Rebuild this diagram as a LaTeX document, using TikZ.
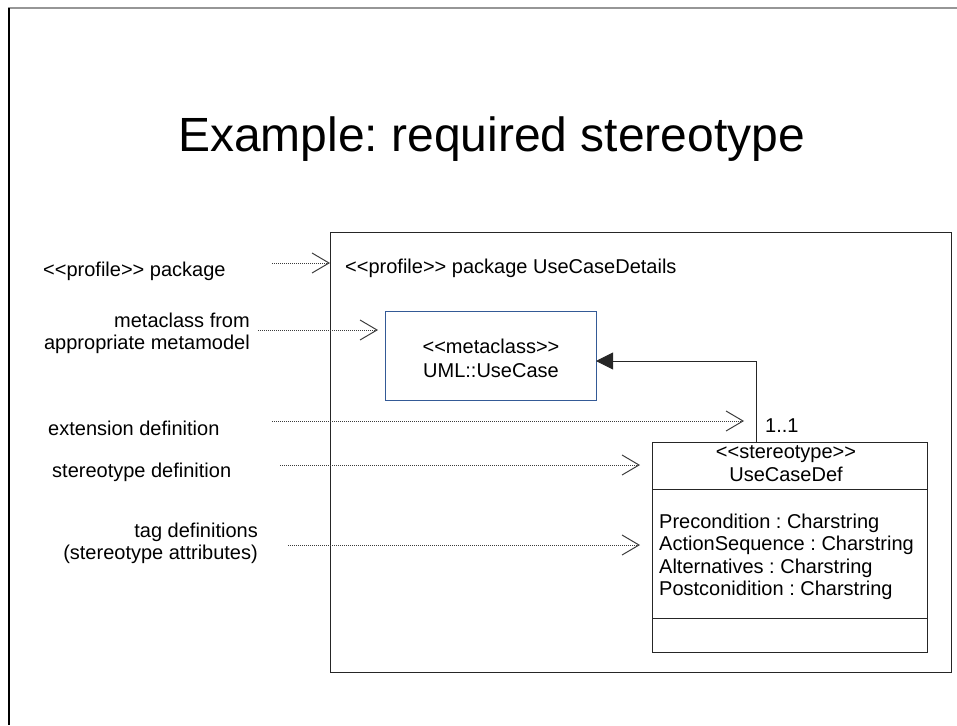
\documentclass[tikz,border=0pt]{standalone}
\usepackage{fontspec}
\setmainfont{Liberation Sans}[Ligatures=TeXOff]
\usetikzlibrary{arrows.meta}
\frenchspacing
\definecolor{metablue}{RGB}{52,90,150}
\definecolor{framegray}{RGB}{150,150,150}
\definecolor{dotgray}{RGB}{60,60,60}
\begin{document}
\begin{tikzpicture}[x=1pt,y=-1pt,
  txt/.style={inner sep=0pt, font=\fontsize{20}{22}\selectfont},
  note/.style={draw=dotgray, line width=0.9pt, dash pattern=on 1pt off 1pt,
    -{Straight Barb[length=17pt,width=20pt,line width=1pt]}},
  umlbox/.style={draw=black!85, inner sep=0pt, anchor=north west},
  extline/.style={draw=black!85, line width=1pt, -{Triangle[length=17pt,width=17pt]}}
]
\useasboundingbox (0,0) rectangle (957,725);

% slide frame
\draw[framegray, line width=1.2pt] (8,8) -- (957,8);
\draw[black, line width=1.8pt] (9,8) -- (9,725);

% title
\node[anchor=base, inner sep=0pt, font=\fontsize{48}{56}\selectfont] (title) at (491.5,151) {Example: required stereotype};

% profile package
\node[umlbox, line width=1pt, minimum width=621pt, minimum height=440pt] (pkg) at (330,232) {};
\node[txt, anchor=base west] (pkgname) at (345,273) {<<profile>> package UseCaseDetails};

% metaclass
\node[umlbox, draw=metablue, line width=1pt, minimum width=211pt, minimum height=89pt] (meta) at (385,311) {};
\node[txt, anchor=base] (metast) at (meta.center |- 0,353) {<<metaclass>>};
\node[txt, anchor=base] (metaname) at (meta.center |- 0,377) {UML::UseCase};

% stereotype class
\node[umlbox, line width=1.3pt, minimum width=275pt, minimum height=210pt] (stereo) at (652,442) {};
\draw[black!85, line width=1pt] (stereo.west |- 0,489) -- (stereo.east |- 0,489);
\draw[black!85, line width=1pt] (stereo.west |- 0,618) -- (stereo.east |- 0,618);
\node[txt, anchor=base] (stst) at (786,458) {<<stereotype>>};
\node[txt, anchor=base] (stname) at (786,481) {UseCaseDef};
\node[txt, anchor=base west] (attr1) at (659,528) {Precondition : Charstring};
\node[txt, anchor=base west] (attr2) at (659,550.5) {ActionSequence : Charstring};
\node[txt, anchor=base west] (attr3) at (659,573) {Alternatives : Charstring};
\node[txt, anchor=base west] (attr4) at (659,595.5) {Postconidition : Charstring};

% extension
\coordinate (extfoot) at (756,442);
\coordinate (exttip) at (596,361);
\draw[extline] (extfoot) |- (exttip);
\node[txt, anchor=base west] (mult) at (765,432) {1..1};

% explanatory labels
\node[txt, anchor=base west] (lpkg) at (43,276) {<<profile>> package};
\node[txt, anchor=base east] (lmeta1) at (250,327) {metaclass from};
\node[txt, anchor=base east] (lmeta2) at (250,349) {appropriate metamodel};
\node[txt, anchor=base west] (lext) at (48,435) {extension definition};
\node[txt, anchor=base west] (lst) at (52,477) {stereotype definition};
\node[txt, anchor=base east] (ltag1) at (258,537) {tag definitions};
\node[txt, anchor=base east] (ltag2) at (258,559) {(stereotype attributes)};

% pointers from labels to diagram elements
\coordinate (p1) at (272,263);
\coordinate (p2) at (258,330);
\coordinate (p3) at (272,421);
\coordinate (p4) at (280,465);
\coordinate (p5) at (288,545);
\coordinate (t2) at (378,330);
\coordinate (t3) at (744,421);
\coordinate (t4) at (640,465);
\coordinate (t5) at (640,545);
\draw[note] (p1) -- (pkg.west |- p1);
\draw[note] (p2) -- (t2);
\draw[note] (p3) -- (t3);
\draw[note] (p4) -- (t4);
\draw[note] (p5) -- (t5);
\end{tikzpicture}
\end{document}
